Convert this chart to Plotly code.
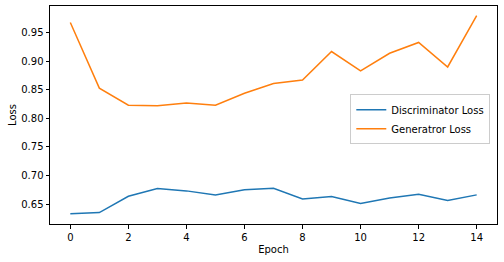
import plotly.graph_objects as go

epochs = list(range(15))
disc_loss = [0.633, 0.635, 0.6635, 0.677, 0.673, 0.666, 0.675, 0.6775, 0.659, 0.663, 0.651, 0.6605, 0.667, 0.656, 0.666]
gen_loss = [0.968, 0.853, 0.823, 0.822, 0.827, 0.823, 0.844, 0.861, 0.867, 0.917, 0.883, 0.914, 0.933, 0.890, 0.980]

fig = go.Figure()
fig.add_trace(go.Scatter(x=epochs, y=disc_loss, mode="lines", name="Discriminator Loss",
                         line=dict(color="#1f77b4", width=1.5)))
fig.add_trace(go.Scatter(x=epochs, y=gen_loss, mode="lines", name="Generatror Loss",
                         line=dict(color="#ff7f0e", width=1.5)))

axis_common = dict(showgrid=False, zeroline=False, showline=True, linecolor="black", linewidth=1,
                   mirror=True, ticks="outside", ticklen=3.5, tickwidth=1, tickcolor="black",
                   tickfont=dict(family="DejaVu Sans", size=10, color="black"))
fig.update_xaxes(range=[-0.7, 14.7], tickvals=[0, 2, 4, 6, 8, 10, 12, 14],
                 title=dict(text="Epoch", font=dict(family="DejaVu Sans", size=10, color="black"), standoff=4),
                 **axis_common)
fig.update_yaxes(range=[0.615, 0.9968], tickvals=[0.65, 0.70, 0.75, 0.80, 0.85, 0.90, 0.95],
                 tickformat=".2f",
                 title=dict(text="Loss", font=dict(family="DejaVu Sans", size=10, color="black"), standoff=2),
                 **axis_common)
fig.update_layout(
    width=504, height=262,
    margin=dict(l=50, r=7, t=6, b=38),
    plot_bgcolor="white", paper_bgcolor="white",
    font=dict(family="DejaVu Sans", size=10, color="black"),
    legend=dict(x=0.985, y=0.48, xanchor="right", yanchor="middle",
                bordercolor="#cccccc", borderwidth=1, bgcolor="rgba(255,255,255,0.8)",
                tracegroupgap=0, itemwidth=30,
                font=dict(family="DejaVu Sans", size=10, color="black")),
)
fig.write_html("out.html")
